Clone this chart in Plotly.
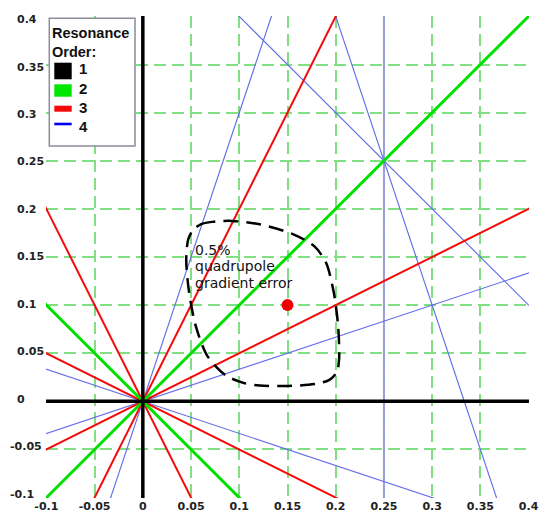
import plotly.graph_objects as go

# ---------------- data ----------------
x_range = [-0.1, 0.4]
y_range = [-0.1, 0.4]
tick_vals = [-0.1, -0.05, 0, 0.05, 0.1, 0.15, 0.2, 0.25, 0.3, 0.35, 0.4]
tick_text = ["-0.1", "-0.05", "0", "0.05", "0.1", "0.15", "0.2", "0.25", "0.3", "0.35", "0.4"]

# resonance lines  m*Qx + n*Qy = p
order1 = [(1, 0, 0), (0, 1, 0)]
order2 = [(1, 1, 0), (1, -1, 0)]
order3 = [(2, 1, 0), (2, -1, 0), (1, 2, 0), (1, -2, 0)]
order4 = [(4, 0, 1), (2, 2, 1), (3, 1, 1), (3, -1, 0), (1, -3, 0), (1, 3, 0)]

order_labels = ["1", "2", "3", "4"]
order_colors = ["#000000", "rgb(0,225,0)", "rgb(245,10,10)", "rgb(100,110,230)"]
order_widths = [3.5, 3, 2, 1.15]

# working point
wp_x = [0.15]
wp_y = [0.1]

# tune spread from 0.5% quadrupole gradient error
spread_x = [0.052, 0.060, 0.072, 0.092, 0.121, 0.155, 0.178, 0.190, 0.198, 0.2025, 0.2035,
            0.201, 0.193, 0.178, 0.150, 0.121, 0.105, 0.086, 0.067, 0.055, 0.048, 0.045, 0.047]
spread_y = [0.178, 0.184, 0.1865, 0.1875, 0.184, 0.174, 0.161, 0.144, 0.113, 0.078, 0.044,
            0.030, 0.022, 0.018, 0.016, 0.0165, 0.019, 0.027, 0.047, 0.078, 0.113, 0.147, 0.168]

annot_lines = ["0.5%", "quadrupole", "gradient error"]

# ---------------- figure ----------------
W, H = 539, 514
ML, MR, MT, MB = 46, 10, 16, 16
PW, PH = W - ML - MR, H - MT - MB
EPS = 0.0004


def line_pts(m, n, p):
    if n == 0:
        x0 = p / m
        return [x0, x0], [-1.0, 1.0]
    xs = [-1.0, 1.0]
    return xs, [(p - m * x) / n for x in xs]


fig = go.Figure()
groups = [order4, order3, order2, order1]
gidx = [3, 2, 1, 0]
for grp, gi in zip(groups, gidx):
    for (m, n, p) in grp:
        xs, ys = line_pts(m, n, p)
        w = order_widths[gi]
        col = order_colors[gi]
        if gi == 3 and n == 0:
            col, w = "rgb(155,155,222)", 2
        fig.add_trace(go.Scatter(x=xs, y=ys, mode="lines",
                                 line=dict(color=col, width=w),
                                 showlegend=False, hoverinfo="skip"))

sx = spread_x + [spread_x[0]]
sy = spread_y + [spread_y[0]]
fig.add_trace(go.Scatter(x=sx, y=sy, mode="lines",
                         line=dict(color="black", width=2.5, dash="15px,8px", shape="spline", smoothing=0.8),
                         showlegend=False, hoverinfo="skip"))
fig.add_trace(go.Scatter(x=wp_x, y=wp_y, mode="markers",
                         marker=dict(color="rgb(240,0,0)", size=12), showlegend=False))


def pxx(p):
    return (p - ML) / PW


def pxy(p):
    return (H - MB - p) / PH


shapes = []
annotations = []

# manual legend
shapes.append(dict(type="rect", xref="paper", yref="paper", x0=pxx(49.3), x1=pxx(135),
                   y0=pxy(146), y1=pxy(18.3), line=dict(color="#8c8c9c", width=1.5),
                   fillcolor="white", layer="above"))
sw_tops = [62.7, 84.3, 105.7, 122.7]
sw_bots = [79.3, 96.7, 111.7, 125.3]
sw_cols = ["#000000", "rgb(0,230,0)", "rgb(245,10,10)", "rgb(0,0,240)"]
lab_y = [68.5, 88.5, 107.5, 126.5]
for i in range(4):
    shapes.append(dict(type="rect", xref="paper", yref="paper", x0=pxx(54.3), x1=pxx(71.7),
                       y0=pxy(sw_bots[i]), y1=pxy(sw_tops[i]), line=dict(width=0),
                       fillcolor=sw_cols[i], layer="above"))
    annotations.append(dict(xref="paper", yref="paper", x=pxx(79), y=pxy(lab_y[i]),
                            xanchor="left", yanchor="middle", showarrow=False,
                            text=order_labels[i], borderpad=0, borderwidth=0,
                            font=dict(family="Liberation Sans", size=15, color="#111", weight="bold")))
annotations.append(dict(xref="paper", yref="paper", x=pxx(52), y=pxy(42.5),
                        xanchor="left", yanchor="middle", showarrow=False,
                        text="Resonance<br>Order:", borderpad=0, borderwidth=0, align="left",
                        font=dict(family="Liberation Sans", size=14.5, color="#111", weight="bold")))

# spread annotation text
ann_y_px = [249.5, 266.2, 283]
for t, yp in zip(annot_lines, ann_y_px):
    annotations.append(dict(xref="paper", yref="paper", x=pxx(195), y=pxy(yp),
                            xanchor="left", yanchor="middle", showarrow=False, text=t,
                            borderpad=0, borderwidth=0,
                            font=dict(family="DejaVu Sans", size=14, color="#111")))

# y tick labels (left aligned, minus sign hanging)
for v, t in zip(tick_vals, tick_text):
    annotations.append(dict(xref="paper", yref="y", x=pxx(16.7), y=v, xanchor="left",
                            yanchor="middle", showarrow=False, text=t, borderpad=0, borderwidth=0,
                            xshift=-6.7 if t.startswith("-") else 0,
                            yshift=-3.3 + (0.4 - v) * 13.8,
                            font=dict(family="DejaVu Sans", size=11, color="#222", weight="bold")))

grid_col = "rgb(130,222,130)"
fig.update_layout(
    width=W, height=H,
    margin=dict(l=ML, r=MR, t=MT, b=MB, pad=0, autoexpand=False),
    plot_bgcolor="white", paper_bgcolor="white",
    xaxis=dict(range=[x_range[0] - EPS, x_range[1] + EPS], tickvals=tick_vals, ticktext=tick_text,
               showgrid=True, automargin=False,
               gridcolor=grid_col, gridwidth=2, griddash="12px,6px", zeroline=False,
               showline=False, ticks="", fixedrange=True,
               tickfont=dict(family="DejaVu Sans", size=11, color="#222", weight="bold")),
    yaxis=dict(range=[y_range[0] - EPS, y_range[1] + EPS], tickvals=tick_vals,
               showticklabels=False, showgrid=True, automargin=False,
               gridcolor=grid_col, gridwidth=2, griddash="12px,6px", zeroline=False,
               showline=False, ticks="", fixedrange=True),
    shapes=shapes, annotations=annotations, showlegend=False,
)

fig.write_html("out.html", config={"displayModeBar": False},
               post_script="document.body.style.margin='0px';")
